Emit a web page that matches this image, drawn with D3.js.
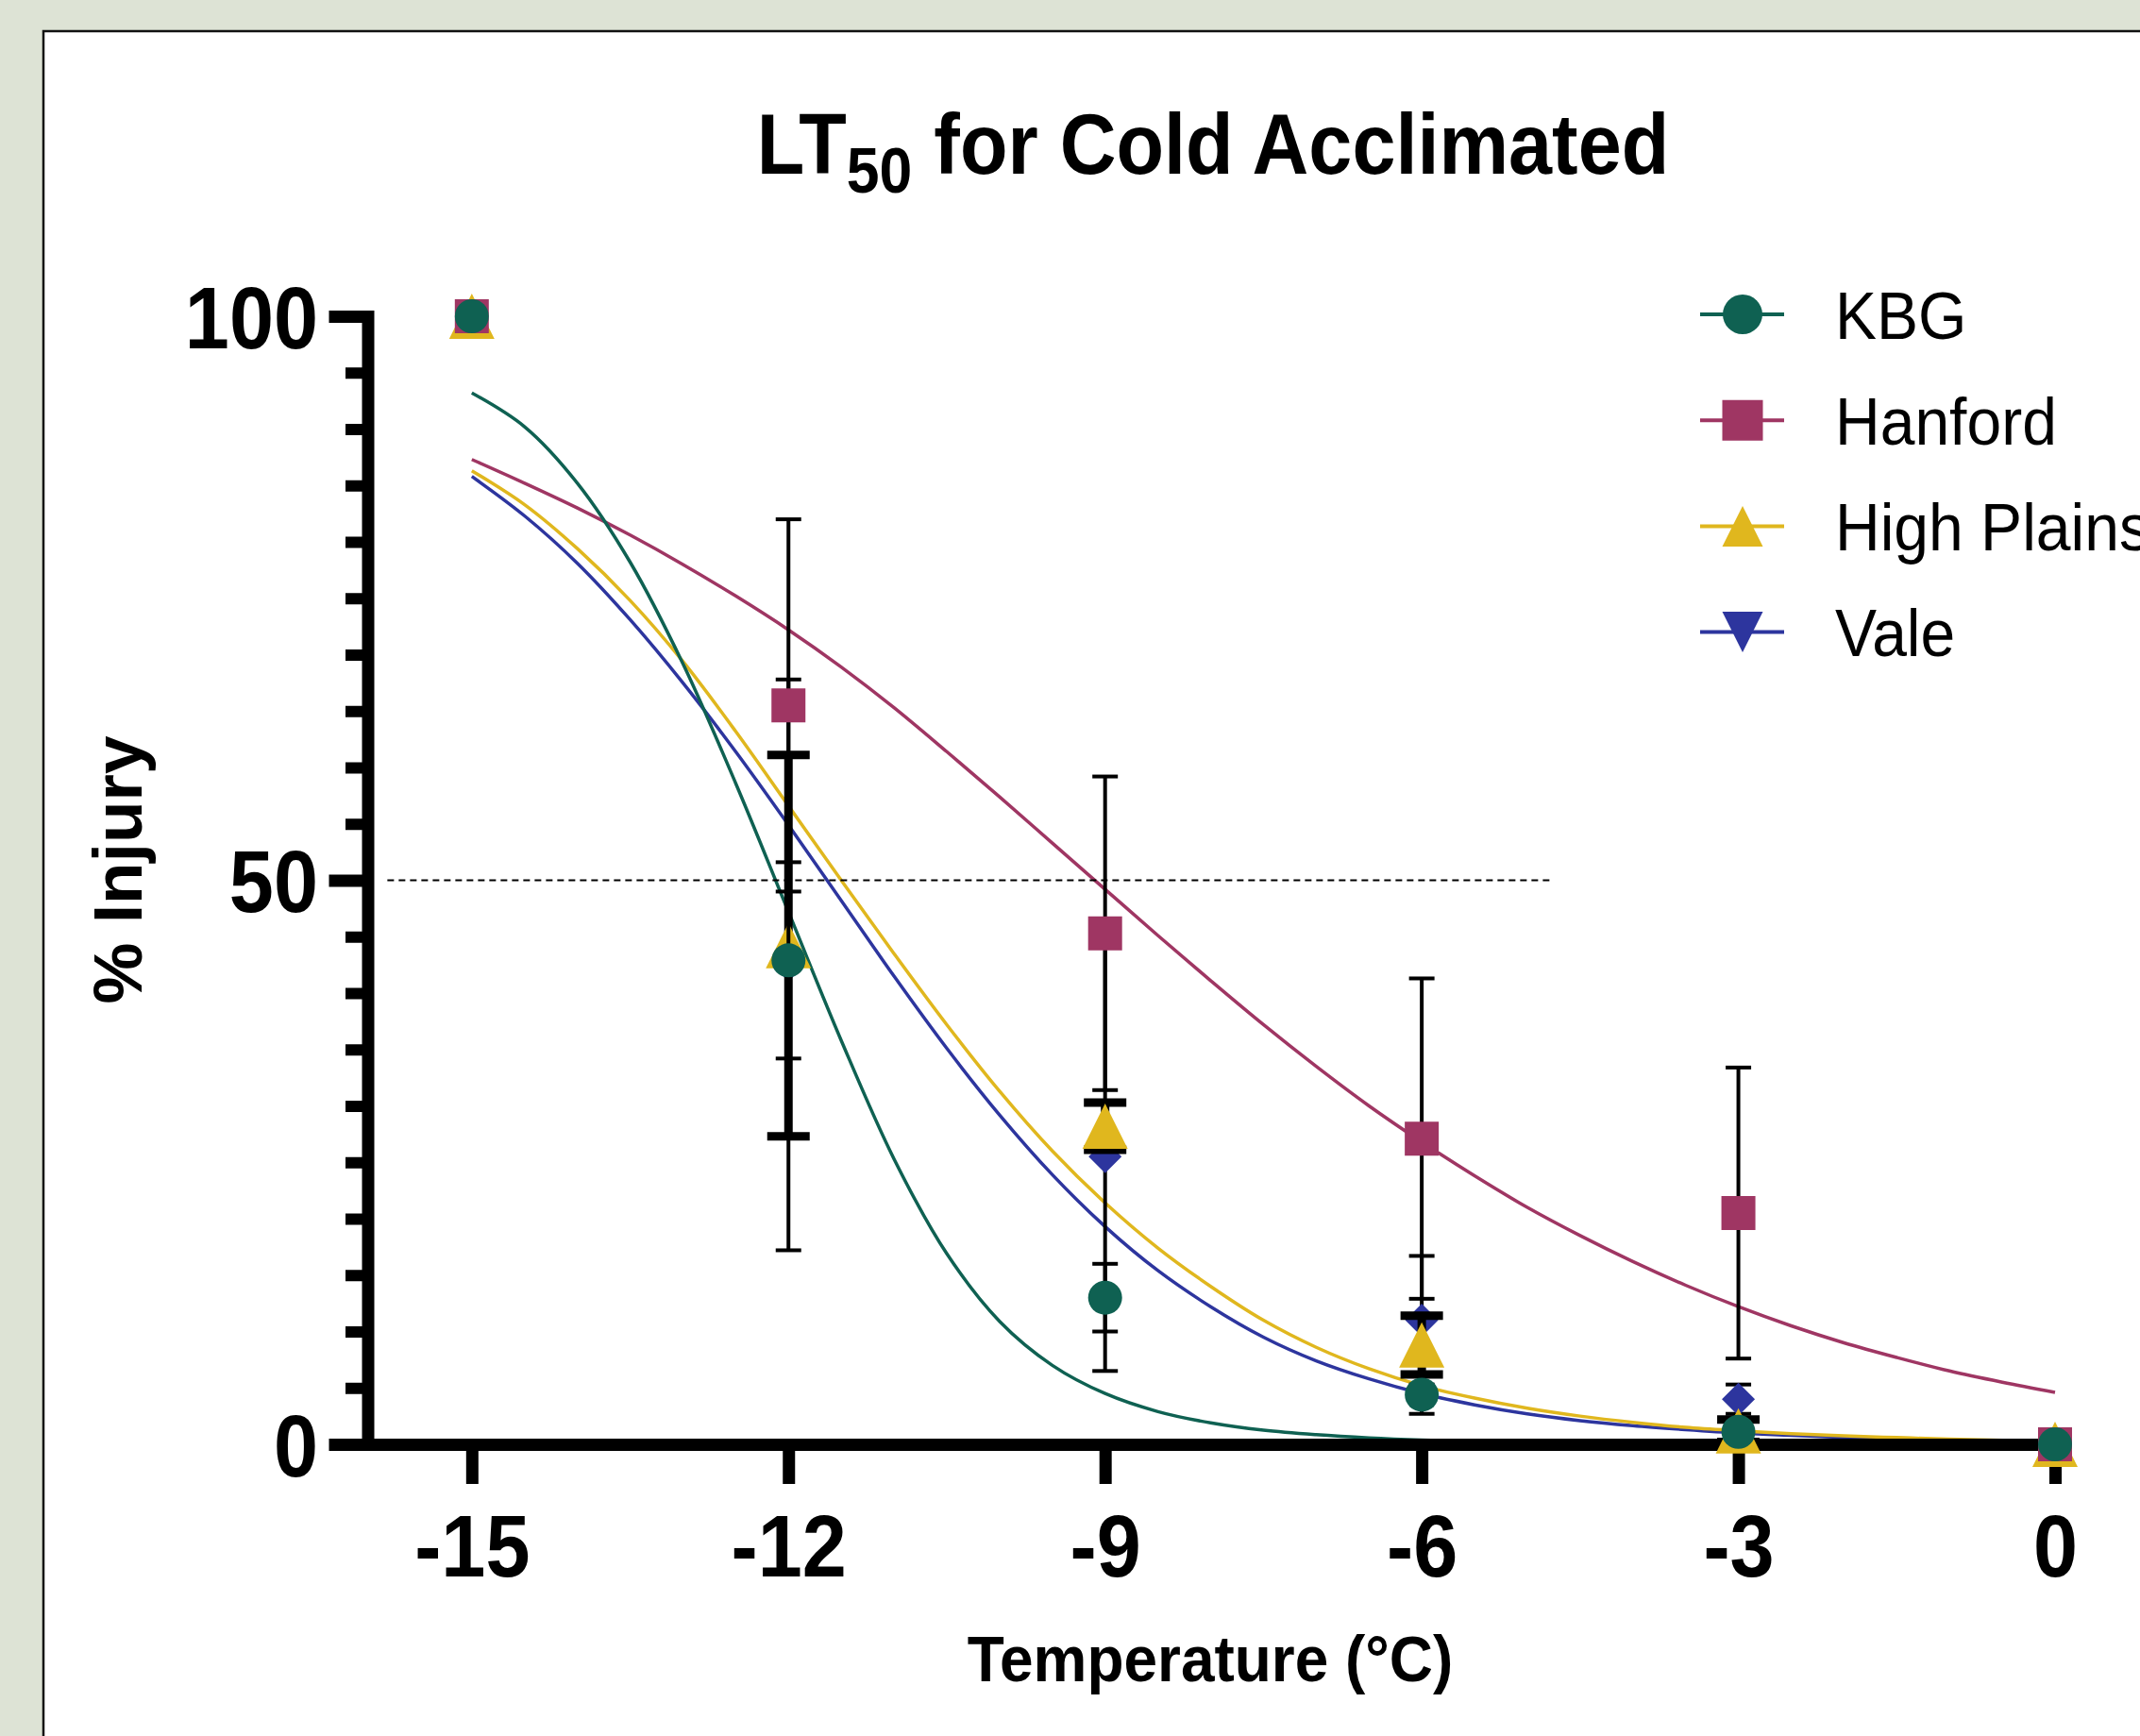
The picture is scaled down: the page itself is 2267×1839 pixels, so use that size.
<!DOCTYPE html>
<html lang="en">
<head>
  <meta charset="UTF-8">
  <title>LT50 for Cold Acclimated</title>
  <style>
    body { margin: 0; background: #dde3d5; }
    svg { display: block; }
    text { font-family: "Liberation Sans", Arial, Helvetica, sans-serif; fill: #000; }
  </style>
</head>
<body>
  <div id="chart"></div>

  <script src="https://cdnjs.cloudflare.com/ajax/libs/d3/7.8.5/d3.min.js"></script>
  <script>
    // data
    const temps = [-15, -12, -9, -6, -3, 0];
    const seriesNames = ['KBG', 'Hanford', 'High Plains', 'Vale'];

    const kbgMean = [100, 42.9, 13.0, 4.4, 1.1, 0];
    const kbgSd = [0, 8.7, 3.0, 1.7, 0.8, 0];
    const hanfordMean = [100, 65.5, 45.3, 27.1, 20.5, 0];
    const hanfordSd = [0, 16.5, 13.9, 14.2, 12.9, 0];
    const highPlainsMean = [100, 44.2, 28.2, 8.8, 1.2, 0];
    const highPlainsSd = [0, 16.9, 2.1, 2.6, 1.0, 0];
    const valeMean = [100, 42.5, 25.5, 11.0, 4.0, 0];
    const valeSd = [0, 25.3, 19.0, 5.7, 1.3, 0];

    // fitted curves, every 0.5 °C
    const fitTemps = [-15, -14.5, -14, -13.5, -13, -12.5, -12, -11.5, -11, -10.5, -10,
      -9.5, -9, -8.5, -8, -7.5, -7, -6.5, -6, -5.5, -5, -4.5, -4, -3.5, -3, -2.5, -2, -1.5, -1, -0.5, 0];
    const kbgFit = [93.2, 90.2, 85.2, 78.2, 69.2, 58.6, 47.2, 35.8, 25.3, 16.9, 10.9,
      7.0, 4.5, 2.9, 1.9, 1.25, 0.85, 0.57, 0.38, 0.26, 0.18, 0.12, 0.08, 0.06, 0.04, 0.03, 0.02, 0.01, 0.01, 0, 0];
    const hanfordFit = [87.3, 85.2, 83.0, 80.6, 78.0, 75.2, 72.2, 68.9, 65.3, 61.4, 57.4,
      53.3, 49.2, 45.1, 41.1, 37.2, 33.5, 30.0, 26.8, 23.8, 21.0, 18.5, 16.2, 14.1, 12.2, 10.5, 9.0, 7.7, 6.5, 5.5, 4.6];
    const highPlainsFit = [86.3, 83.3, 79.4, 74.8, 69.4, 63.2, 56.6, 50.0, 43.5, 37.2, 31.3,
      26.0, 21.4, 17.4, 14.0, 11.0, 8.6, 6.7, 5.2, 4.1, 3.2, 2.5, 1.95, 1.5, 1.2, 0.95, 0.75, 0.6, 0.45, 0.35, 0.28];
    const valeFit = [85.8, 82.3, 78.1, 73.1, 67.5, 61.4, 54.9, 48.2, 41.5, 35.1, 29.2,
      23.9, 19.3, 15.4, 12.2, 9.5, 7.4, 5.8, 4.5, 3.5, 2.7, 2.1, 1.65, 1.3, 1.0, 0.8, 0.6, 0.47, 0.37, 0.29, 0.22];

    const xTicks = [-15, -12, -9, -6, -3, 0];
    const yTicks = [0, 50, 100];
    const yMinorTicks = [5, 10, 15, 20, 25, 30, 35, 40, 45, 55, 60, 65, 70, 75, 80, 85, 90, 95];
    const refLevel = 50;
    const refSpan = [-15.8, -4.75];

    const width = 2267;
    const height = 1839;
    const squeeze = 0.92;

    const x = d3.scaleLinear().domain([-16, 0]).range([388, 2177]);
    const y = d3.scaleLinear().domain([0, 100]).range([1530, 335]);

    const series = [
      { name: seriesNames[0], mean: kbgMean, sd: kbgSd, fit: kbgFit, color: '#0f6152',
        shape: 'circle', r: 18, legendShape: 'circle', lr: 21, bar: 4, cap: 13.5 },
      { name: seriesNames[1], mean: hanfordMean, sd: hanfordSd, fit: hanfordFit, color: '#9f3663',
        shape: 'square', r: 18, legendShape: 'square', lr: 21.5, bar: 4, cap: 13.5 },
      { name: seriesNames[2], mean: highPlainsMean, sd: highPlainsSd, fit: highPlainsFit, color: '#e0b71e',
        shape: 'up', r: 24, legendShape: 'up', lr: 21.5, bar: 9, cap: 22.5 },
      { name: seriesNames[3], mean: valeMean, sd: valeSd, fit: valeFit, color: '#2d359e',
        shape: 'diamond', r: 17.5, legendShape: 'down', lr: 21.5, bar: 4, cap: 13.5 }
    ];

    function shape(type, r) {
      const p = d3.path();
      if (type === 'circle') {
        p.moveTo(r, 0);
        p.arc(0, 0, r, 0, 2 * Math.PI);
      } else if (type === 'square') {
        p.rect(-r, -r, 2 * r, 2 * r);
      } else if (type === 'up') {
        p.moveTo(0, -r); p.lineTo(r, r); p.lineTo(-r, r); p.closePath();
      } else if (type === 'down') {
        p.moveTo(0, r); p.lineTo(r, -r); p.lineTo(-r, -r); p.closePath();
      } else if (type === 'diamond') {
        p.moveTo(0, -r); p.lineTo(r, 0); p.lineTo(0, r); p.lineTo(-r, 0); p.closePath();
      }
      return p.toString();
    }

    const svg = d3.select('#chart')
      .append('svg')
      .attr('width', width)
      .attr('height', height);

    // white panel with a thin frame
    svg.append('rect')
      .attr('x', 46).attr('y', 33)
      .attr('width', width).attr('height', height)
      .attr('fill', '#fff')
      .attr('stroke', '#111')
      .attr('stroke-width', 2.5);

    // title
    const title = svg.append('text')
      .attr('transform', `translate(1285,184) scale(${squeeze},1)`)
      .attr('text-anchor', 'middle')
      .attr('font-weight', 'bold')
      .attr('font-size', 90);
    title.append('tspan').text('LT');
    title.append('tspan').attr('font-size', 68).attr('dy', 20).text('50');
    title.append('tspan').attr('dy', -20).text(' for Cold Acclimated');

    // fitted curves
    const line = d3.line()
      .x((d, i) => x(fitTemps[i]))
      .y(d => y(d))
      .curve(d3.curveCatmullRom.alpha(0.5));

    const gcurves = svg.append('g').classed('curves', true);
    gcurves.selectAll('path')
      .data(series.slice().reverse())
      .enter()
      .append('path')
      .attr('d', d => line(d.fit))
      .attr('fill', 'none')
      .attr('stroke', d => d.color)
      .attr('stroke-width', 3.5);

    // 50% reference line
    svg.append('line')
      .attr('x1', x(refSpan[0]))
      .attr('x2', x(refSpan[1]))
      .attr('y1', y(refLevel))
      .attr('y2', y(refLevel))
      .attr('stroke', '#000')
      .attr('stroke-width', 2)
      .attr('stroke-dasharray', '7 5');

    // axes
    const gy = svg.append('g')
      .attr('transform', 'translate(389.5,0)');
    gy.append('g')
      .call(d3.axisLeft(y).tickValues(yMinorTicks).tickSize(23.5).tickSizeOuter(0).tickFormat(''))
      .call(g => g.select('.domain').remove())
      .call(g => g.selectAll('line').attr('stroke-width', 12));
    gy.append('g')
      .call(d3.axisLeft(y).tickValues(yTicks).tickSize(41).tickSizeOuter(0).tickFormat(d => String(d)))
      .call(g => g.select('.domain').attr('stroke-width', 13).attr('stroke-linecap', 'square'))
      .call(g => g.selectAll('line').attr('stroke-width', 13))
      .call(g => g.selectAll('text')
        .attr('x', -52.5 / squeeze)
        .attr('dy', '0.36em')
        .attr('transform', `scale(${squeeze},1)`)
        .attr('font-size', 92)
        .attr('font-weight', 'bold')
        .attr('font-family', '"Liberation Sans", Arial, sans-serif')
        .attr('fill', '#000'));

    const gx = svg.append('g')
      .attr('transform', 'translate(0,1530)');
    gx.call(d3.axisBottom(x).tickValues(xTicks).tickSize(42).tickSizeOuter(0).tickFormat(d => String(d)))
      .call(g => g.select('.domain').attr('stroke-width', 13).attr('stroke-linecap', 'square'))
      .call(g => g.selectAll('line').attr('stroke-width', 13))
      .call(g => g.selectAll('text')
        .attr('y', 140)
        .attr('dy', 0)
        .attr('transform', `scale(${squeeze},1)`)
        .attr('font-size', 92)
        .attr('font-weight', 'bold')
        .attr('font-family', '"Liberation Sans", Arial, sans-serif')
        .attr('fill', '#000'));

    // axis titles
    svg.append('text')
      .attr('transform', 'translate(1282,1781) scale(0.94,1)')
      .attr('text-anchor', 'middle')
      .attr('font-weight', 'bold')
      .attr('font-size', 68)
      .text('Temperature (°C)');

    svg.append('text')
      .attr('transform', 'translate(150,921.5) rotate(-90)')
      .attr('text-anchor', 'middle')
      .attr('font-weight', 'bold')
      .attr('font-size', 73)
      .text('% Injury');

    // error bars and points, last series at the back
    const gpoints = svg.append('g').classed('points', true);
    series.slice().reverse().forEach(s => {
      const gs = gpoints.append('g');
      const rows = temps.map((t, i) => ({ t: t, m: s.mean[i], sd: s.sd[i] }));
      const bars = gs.selectAll('.bar')
        .data(rows.filter(d => d.sd > 0))
        .enter()
        .append('g')
        .classed('bar', true)
        .attr('stroke', '#000')
        .attr('stroke-width', s.bar);
      bars.append('line')
        .attr('x1', d => x(d.t)).attr('x2', d => x(d.t))
        .attr('y1', d => y(d.m + d.sd)).attr('y2', d => y(d.m - d.sd));
      bars.append('line')
        .attr('x1', d => x(d.t) - s.cap).attr('x2', d => x(d.t) + s.cap)
        .attr('y1', d => y(d.m + d.sd)).attr('y2', d => y(d.m + d.sd));
      bars.append('line')
        .attr('x1', d => x(d.t) - s.cap).attr('x2', d => x(d.t) + s.cap)
        .attr('y1', d => y(d.m - d.sd)).attr('y2', d => y(d.m - d.sd));

      gs.selectAll('.pt')
        .data(rows)
        .enter()
        .append('path')
        .classed('pt', true)
        .attr('transform', d => `translate(${x(d.t)},${y(d.m)})`)
        .attr('d', shape(s.shape, s.r))
        .attr('fill', s.color);
    });

    // legend (the last label runs off the right edge, as in the original)
    const legend = svg.append('g')
      .attr('transform', 'translate(1801,333)');
    const items = legend.selectAll('.item')
      .data(series)
      .enter()
      .append('g')
      .classed('item', true)
      .attr('transform', (d, i) => `translate(0,${i * 112.2})`);
    items.append('line')
      .attr('x1', 0).attr('x2', 89)
      .attr('stroke', d => d.color)
      .attr('stroke-width', 4);
    items.append('path')
      .attr('transform', 'translate(45,0)')
      .attr('d', d => shape(d.legendShape, d.lr))
      .attr('fill', d => d.color);
    items.append('text')
      .attr('transform', `translate(143,25.5) scale(0.93,1)`)
      .attr('font-size', 71)
      .text(d => d.name);
  </script>
</body>
</html>
